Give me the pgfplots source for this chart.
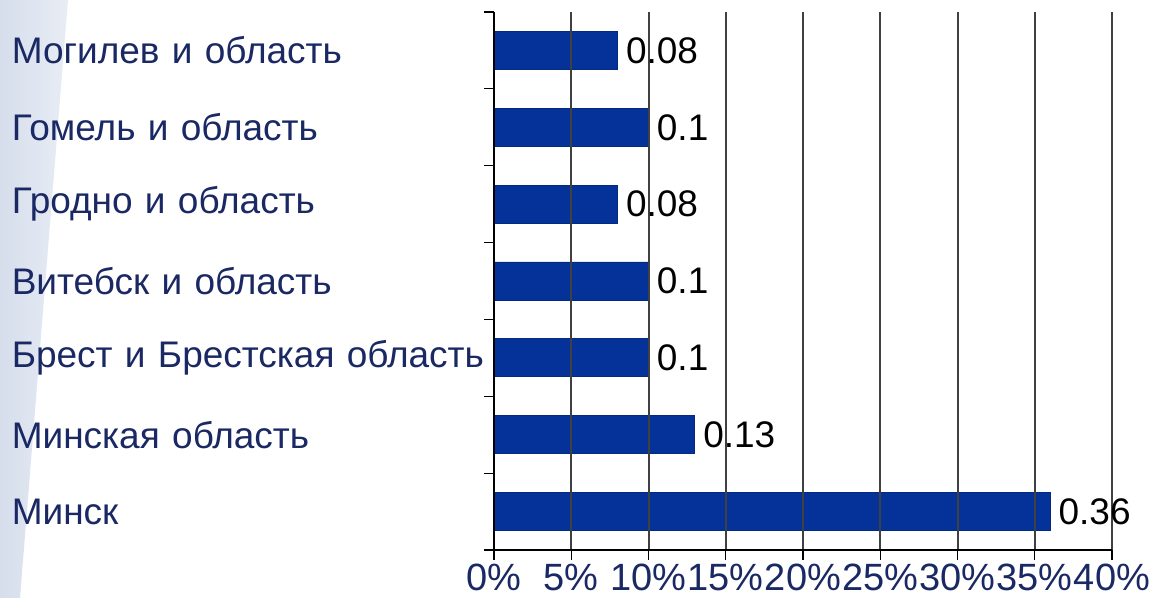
\documentclass[border=0pt]{standalone}
\usepackage{pgfplots}
\pgfplotsset{compat=1.18}
\usepackage{fontspec}
\setmainfont{Liberation Sans}
\definecolor{barblue}{RGB}{4,50,152}
\definecolor{navy}{RGB}{26,40,100}
\definecolor{bgc}{RGB}{214,222,236}
\begin{document}
\begin{tikzpicture}[x=1bp,y=1bp]
\path[use as bounding box] (0,0) rectangle (1153,598);
\shade[left color=bgc, right color=bgc!55!white] (0,0) -- (20,0) -- (68,598) -- (0,598) -- cycle;
\begin{axis}[
  at={(494bp,48bp)}, anchor=south west,
  scale only axis, width=618bp, height=538bp,
  xmin=0, xmax=0.4, ymin=-0.5, ymax=6.5,
  xbar, bar width=38bp,
  axis x line*=bottom, axis y line*=left,
  axis line style={black, line width=1.4bp},
  axis on top,
  xmajorgrids, grid style={black!75, line width=2bp},
  xtick={0,0.05,0.1,0.15,0.2,0.25,0.3,0.35,0.4},
  xticklabels={0\%,5\%,10\%,15\%,20\%,25\%,30\%,35\%,40\%},
  ytick={0,1,2,3,4,5,6},
  yticklabels={Минск, Минская область, Брест и Брестская область, Витебск и область, Гродно и область, Гомель и область, Могилев и область},
  minor ytick={-0.5,0.5,1.5,2.5,3.5,4.5,5.5,6.5},
  tick align=outside,
  major tick length=10bp, minor tick length=10bp,
  major y tick style={draw=none},
  minor y tick style={black, line width=1.2bp},
  major x tick style={black, line width=1.4bp},
  yticklabel style={anchor=east, text width=476bp, align=left, inner sep=0pt, xshift=4bp, font=\fontsize{37bp}{40bp}\selectfont, text=navy},
  xticklabel style={inner sep=0pt, font=\fontsize{38bp}{40bp}\selectfont, text=navy, yshift=-4bp},
  nodes near coords,
  point meta=explicit symbolic,
  nodes near coords style={anchor=west, font=\fontsize{37bp}{40bp}\selectfont, text=black, inner sep=0pt, xshift=8bp},
]
\addplot[fill=barblue, draw=barblue!85!black, line width=0.8bp] coordinates {
  (0.36,0) [0.36]
  (0.13,1) [0.13]
  (0.10,2) [0.1]
  (0.10,3) [0.1]
  (0.08,4) [0.08]
  (0.10,5) [0.1]
  (0.08,6) [0.08]
};
\end{axis}
\end{tikzpicture}
\end{document}
